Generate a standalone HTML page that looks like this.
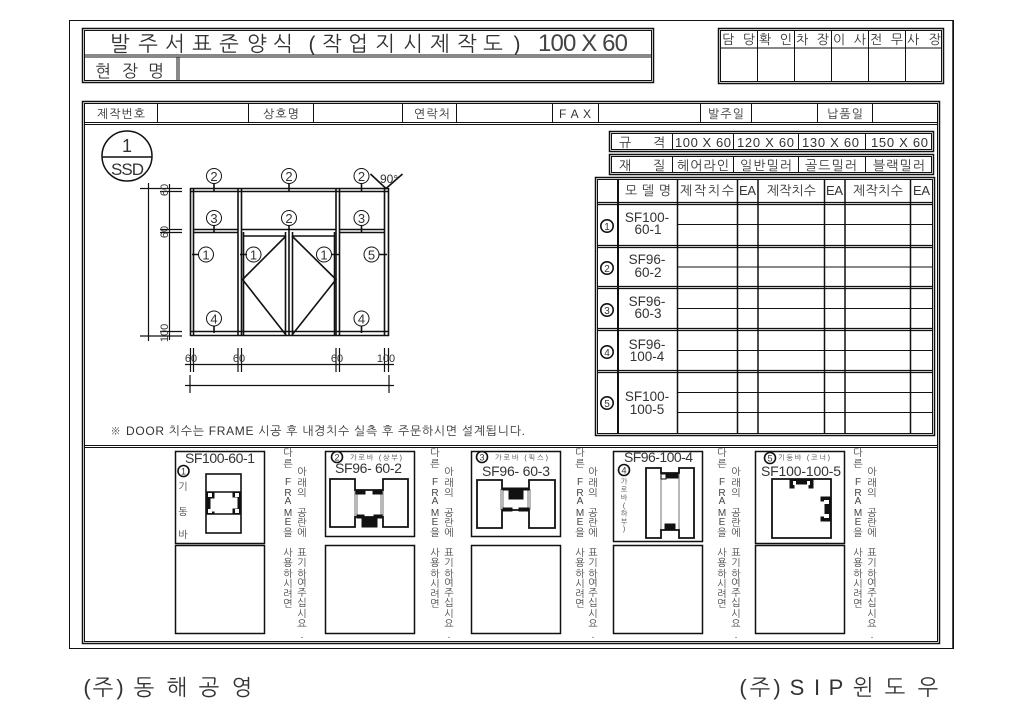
<!DOCTYPE html>
<html lang="ko"><head><meta charset="utf-8"><title>발주서 표준양식</title>
<style>
html,body{margin:0;padding:0;background:#fff;width:1024px;height:723px;overflow:hidden}
svg{display:block}
text{font-family:"Liberation Sans","NanumGothic","Noto Sans CJK KR",sans-serif;fill:#333}
.k{font-size:12px}
.v{font-size:10px;text-anchor:middle;fill:#444}
.s{font-size:7px;fill:#444}
path,rect,circle,line{fill:none;stroke:#111}
.b{fill:#111;stroke:#111}
.g{stroke:#888;stroke-width:1.2}
</style></head><body>
<svg width="1024" height="723" viewBox="0 0 1024 723" xmlns="http://www.w3.org/2000/svg">
<rect x="0" y="0" width="1024" height="723" style="fill:#fff;stroke:none"/>
<!-- outer frame -->
<rect x="69.5" y="20.5" width="884" height="628" stroke-width="1"/>
<line x1="953" y1="20" x2="953" y2="649" stroke="#777" stroke-width="1.5"/>

<!-- title -->
<rect x="82.5" y="28.5" width="571" height="54" stroke-width="1.5"/>
<rect x="84.5" y="30.5" width="567" height="50" stroke-width="1"/>
<path d="M84 55H652M84 57H652" stroke-width="1"/>
<path d="M177 57V81M179 57V81" stroke-width="1"/>
<text x="120 148 175 202 229 257 283 312 332 358 385 413 440 467 493 517" y="51" font-size="21" text-anchor="middle">발주서표준양식(작업지시제작도)</text>
<text x="538" y="51" font-size="24" textLength="90" style="fill:#444">100 X 60</text>
<text x="103 130 156" y="77" font-size="17" text-anchor="middle">현장명</text>

<!-- approval -->
<rect x="718.5" y="28.5" width="225" height="55" stroke-width="1.5"/>
<rect x="720.5" y="30.5" width="221" height="51" stroke-width="1"/>
<path d="M720 48H942M757.5 30V82M794.5 30V82M831.5 30V82M868.5 30V82M905.5 30V82" stroke-width="1"/>
<g font-size="13">
<text x="722" y="44" textLength="33">담 당</text><text x="759" y="44" textLength="33">확 인</text><text x="796" y="44" textLength="33">차 장</text><text x="833" y="44" textLength="33">이 사</text><text x="870" y="44" textLength="33">전 무</text><text x="907" y="44" textLength="34">사 장</text>
</g>

<!-- main box -->
<rect x="82.5" y="101.5" width="857" height="542" stroke-width="1.5"/>
<rect x="84.5" y="103.5" width="853" height="538" stroke-width="1"/>
<path d="M84 122.5H938M84 124.5H938M84 445.5H938M84 447.5H938" stroke-width="1"/>
<path d="M157.5 103V123M248.5 103V123M313.5 103V123M402.5 103V123M456.5 103V123M552.5 103V123M598.5 103V123M700.5 103V123M751.5 103V123M817.5 103V123M872.5 103V123" stroke-width="1"/>
<g class="k">
<text x="97" y="118" textLength="48">제작번호</text>
<text x="263" y="118" textLength="36">상호명</text>
<text x="414" y="118" textLength="36">연락처</text>
<text x="559" y="118" textLength="32">F A X</text>
<text x="708" y="118" textLength="36">발주일</text>
<text x="827" y="118" textLength="36">납품일</text>
</g>

<!-- spec tables -->
<rect x="609.5" y="131.5" width="324" height="20" stroke-width="1.5"/>
<rect x="611.5" y="133.5" width="320" height="16" stroke-width="1"/>
<path d="M672.5 133V150M733.5 133V150M798.5 133V150M865.5 133V150" stroke-width="1"/>
<rect x="609.5" y="154.5" width="324" height="20" stroke-width="1.5"/>
<rect x="611.5" y="156.5" width="320" height="16" stroke-width="1"/>
<path d="M672.5 156V173M733.5 156V173M798.5 156V173M865.5 156V173" stroke-width="1"/>
<g font-size="13">
<text x="619" y="147">규</text><text x="653" y="147">격</text>
<text x="675" y="147" textLength="56">100 X 60</text><text x="737" y="147" textLength="57">120 X 60</text><text x="802" y="147" textLength="57">130 X 60</text><text x="871" y="147" textLength="57">150 X 60</text>
<text x="619" y="170">재</text><text x="653" y="170">질</text>
<text x="677" y="170" textLength="52">헤어라인</text><text x="740" y="170" textLength="52">일반밀러</text><text x="805" y="170" textLength="52">골드밀러</text><text x="873" y="170" textLength="52">블랙밀러</text>
</g>

<!-- model table -->
<rect x="595.5" y="177.5" width="339" height="258" stroke-width="1.5"/>
<rect x="597.5" y="179.5" width="335" height="254" stroke-width="1"/>
<path d="M618 179V434" stroke-width="2"/>
<path d="M677.5 179V434M737.5 179V434M758 179V434M824.5 179V434M845 179V434M910.5 179V434" stroke-width="1.5"/>
<path d="M597 202.5H933M597 204.5H933M597 245.5H933M597 247.5H933M597 286.5H933M597 288.5H933M597 328.5H933M597 330.5H933M597 370.5H933M597 372.5H933" stroke-width="1.2"/>
<path d="M677 224.5H933M677 267H933M677 308.5H933M677 350.5H933M677 392.5H933M677 412.5H933" stroke-width="1"/>
<g font-size="13">
<text x="625" y="195" textLength="46">모 델 명</text>
<text x="680" y="195" textLength="54">제작치수</text><text x="739" y="195" textLength="17">EA</text>
<text x="767" y="195" textLength="49">제작치수</text><text x="826" y="195" textLength="17">EA</text>
<text x="853" y="195" textLength="50">제작치수</text><text x="913" y="195" textLength="17">EA</text>
</g>
<g font-size="13.5" text-anchor="middle" style="fill:#444">
<text x="647" y="222">SF100-</text><text x="648" y="234">60-1</text>
<text x="647" y="264">SF96-</text><text x="648" y="277">60-2</text>
<text x="647" y="306">SF96-</text><text x="648" y="318">60-3</text>
<text x="647" y="349">SF96-</text><text x="647" y="361">100-4</text>
<text x="647" y="401">SF100-</text><text x="647" y="414">100-5</text>
</g>
<g stroke-width="1.6">
<circle cx="607" cy="226" r="6.2"/><circle cx="607" cy="268" r="6.2"/><circle cx="607" cy="310" r="6.2"/><circle cx="607" cy="352" r="6.2"/><circle cx="607" cy="403" r="6.2"/>
</g>
<g font-size="10" text-anchor="middle">
<text x="607" y="230">1</text><text x="607" y="272">2</text><text x="607" y="314">3</text><text x="607" y="356">4</text><text x="607" y="407">5</text>
</g>

<!-- SSD symbol -->
<circle cx="127" cy="156" r="25" stroke-width="1.5"/>
<line x1="102" y1="157" x2="152" y2="157" stroke-width="1.5"/>
<text x="127" y="152" font-size="18" text-anchor="middle">1</text>
<text x="111" y="175" font-size="17" textLength="33">SSD</text>

<!-- elevation -->
<g stroke-width="1.6">
<path d="M190.5 188V336M193.5 188V336M238 188V336M241.5 188V336M336 188V336M339.5 188V336M384.5 188V336M388.5 188V336"/>
<path d="M190 188.5H389M190 191.5H389M193 229.5H238M193 232.5H238M241 229.5H336M339 229.5H385M339 232.5H385M190 331.5H389M190 335.5H389"/>
<path d="M243.5 232V336M334.5 232V336M243 236H285M293 236H335"/>
<path d="M285.5 232V336M289 232V336M292.5 232V336"/>
<path d="M286 236L242.5 279.5L286 335M292 236L336 279.5L292 335"/>
<path d="M370.5 174L386 188.5L402.5 174"/>
<path d="M214 183V191M289 183V191M361.5 183V191M214 225V232M289 225V232M361.5 225V232M214 326V333M361.5 326V333M198 254.5H192M247 254.5H240M332 254.5H339M379 254.5H387"/>
</g>
<g style="stroke:#222;stroke-width:1">
<circle cx="214" cy="176" r="7.5"/><circle cx="289" cy="176" r="7.5"/><circle cx="361.5" cy="176" r="7.5"/>
<circle cx="214" cy="218" r="7.5"/><circle cx="289" cy="218" r="7.5"/><circle cx="361.5" cy="218" r="7.5"/>
<circle cx="206" cy="254.5" r="7.5"/><circle cx="253.5" cy="254.5" r="7.5"/><circle cx="324" cy="254.5" r="7.5"/><circle cx="371.5" cy="254.5" r="7.5"/>
<circle cx="214" cy="318.5" r="7.5"/><circle cx="361.5" cy="318.5" r="7.5"/>
</g>
<g font-size="13" text-anchor="middle">
<text x="214" y="181">2</text><text x="289" y="181">2</text><text x="361.5" y="181">2</text>
<text x="214" y="223">3</text><text x="289" y="223">2</text><text x="361.5" y="223">3</text>
<text x="206" y="259.5">1</text><text x="253.5" y="259.5">1</text><text x="324" y="259.5">1</text><text x="371.5" y="259.5">5</text>
<text x="214" y="323.5">4</text><text x="361.5" y="323.5">4</text>
</g>
<text x="380" y="183" font-size="12" textLength="18">90°</text>

<!-- dimensions -->
<g stroke-width="1.2">
<path d="M148.5 183V341M169.5 184V340M140 188.5H182M160 191.5H182M160 229.5H182M160 232.5H182M160 331.5H182M140 336H182"/>
<path d="M185 364.5H394M185 385.5H394"/>
<path d="M190.5 348V372M193.5 348V372M238 348V372M241.5 348V372M336 348V372M339.5 348V372M384.5 348V372M388.5 348V372M190 375V393M389 375V393"/>
</g>
<g font-size="11" text-anchor="middle">
<text x="191" y="362">60</text><text x="239" y="362">60</text><text x="337" y="362">60</text><text x="386" y="362">100</text>
<text transform="translate(168,190) rotate(-90)">60</text>
<text transform="translate(168,232) rotate(-90)">60</text>
<text transform="translate(168,333) rotate(-90)">100</text>
</g>
<text x="110" y="435" font-size="12" textLength="415">※ DOOR 치수는 FRAME 시공 후 내경치수 실측 후 주문하시면 설계됩니다.</text>

<!-- lower boxes -->
<g stroke-width="1.5">
<rect x="175.5" y="451.5" width="89" height="92"/><rect x="175.5" y="545.5" width="89" height="88"/>
<rect x="325.5" y="451.5" width="89" height="85"/><rect x="325.5" y="545.5" width="89" height="88"/>
<rect x="471.5" y="451.5" width="89" height="85"/><rect x="471.5" y="545.5" width="89" height="88"/>
<rect x="613.5" y="451.5" width="89" height="90"/><rect x="613.5" y="545.5" width="89" height="88"/>
<rect x="755.5" y="451.5" width="89" height="92"/><rect x="755.5" y="545.5" width="89" height="88"/>
</g>

<!-- vertical notes -->
<text class="v" x="288 288 288 288 288 288 288 288 288 288 288 288 288 288" y="456 467 485 496 504 516 525 536 556 566 577 587 597 607">다른FRAME을사용하시려면</text>
<text class="v" x="302 302 302 302 302 302 302 302 302 302 302 302 302 302 302" y="475 486 496 516 526 536 556 566 577 586 596 606 617 627 638">아래의공란에표기하여주십시요.</text>
<text class="v" x="435 435 435 435 435 435 435 435 435 435 435 435 435 435" y="456 467 485 496 504 516 525 536 556 566 577 587 597 607">다른FRAME을사용하시려면</text>
<text class="v" x="449 449 449 449 449 449 449 449 449 449 449 449 449 449 449" y="475 486 496 516 526 536 556 566 577 586 596 606 617 627 638">아래의공란에표기하여주십시요.</text>
<text class="v" x="580 580 580 580 580 580 580 580 580 580 580 580 580 580" y="456 467 485 496 504 516 525 536 556 566 577 587 597 607">다른FRAME을사용하시려면</text>
<text class="v" x="593 593 593 593 593 593 593 593 593 593 593 593 593 593 593" y="475 486 496 516 526 536 556 566 577 586 596 606 617 627 638">아래의공란에표기하여주십시요.</text>
<text class="v" x="722 722 722 722 722 722 722 722 722 722 722 722 722 722" y="456 467 485 496 504 516 525 536 556 566 577 587 597 607">다른FRAME을사용하시려면</text>
<text class="v" x="736 736 736 736 736 736 736 736 736 736 736 736 736 736 736" y="475 486 496 516 526 536 556 566 577 586 596 606 617 627 638">아래의공란에표기하여주십시요.</text>
<text class="v" x="858 858 858 858 858 858 858 858 858 858 858 858 858 858" y="456 467 485 496 504 516 525 536 556 566 577 587 597 607">다른FRAME을사용하시려면</text>
<text class="v" x="872 872 872 872 872 872 872 872 872 872 872 872 872 872 872" y="475 486 496 516 526 536 556 566 577 586 596 606 617 627 638">아래의공란에표기하여주십시요.</text>

<!-- box 1 -->
<text x="185" y="463" font-size="14" textLength="70">SF100-60-1</text>
<circle cx="183.5" cy="471" r="5.5" stroke-width="1.6"/><text x="183.5" y="474.5" font-size="9" text-anchor="middle">1</text>
<text class="v" x="183 183 183" y="490 515 538">기동바</text>
<rect x="206" y="474" width="35" height="59" stroke-width="1.6"/>
<path d="M206 492H241M206 514H241" stroke-width="1.6"/>
<path class="b" d="M206 492H214V498H210V512H214V514H206Z"/>
<path class="b" d="M233 492H240V514H233V509H238V497H233Z"/>
<rect x="208" y="493" width="4" height="4" style="fill:#fff;stroke:none"/><rect x="235" y="493" width="4" height="4" style="fill:#fff;stroke:none"/><rect x="208" y="509" width="4" height="4" style="fill:#fff;stroke:none"/><rect x="235" y="509" width="4" height="4" style="fill:#fff;stroke:none"/>

<!-- box 2 -->
<circle cx="337" cy="457" r="5.5" stroke-width="1.6"/><text x="337" y="460.5" font-size="9" text-anchor="middle">2</text>
<text class="s" x="350" y="460" textLength="52">가로바 (상부)</text>
<text x="335" y="473" font-size="14" textLength="67">SF96- 60-2</text>
<path class="g" d="M355 490V517M357 490V517M383 490V517M381 490V517"/>
<path d="M355 479H330V527H355V517H383V527H408V479H383V490H355Z" stroke-width="1.8"/>
<path class="b" d="M356 491H365V494H356ZM373 491H382V494H373ZM357 515H364V518H357ZM374 515H382V518H374ZM362 518H377V527H362Z"/>

<!-- box 3 -->
<circle cx="482" cy="457" r="5.5" stroke-width="1.6"/><text x="482" y="460.5" font-size="9" text-anchor="middle">3</text>
<text class="s" x="495" y="460" textLength="53">가로바 (픽스)</text>
<text x="482" y="476" font-size="14" textLength="68">SF96- 60-3</text>
<path class="g" d="M501 489V510M503 489V510M530 489V510M528 489V510"/>
<path d="M502 480H477V528H502V510H529V528H555V480H529V489H502Z" stroke-width="1.8"/>
<path class="b" d="M509 490H523V499H509ZM503 488H529V490H503ZM503 508H512V511H503ZM519 508H529V511H519Z"/>

<!-- box 4 -->
<text x="624" y="462" font-size="14" textLength="69">SF96-100-4</text>
<circle cx="624" cy="470" r="5.5" stroke-width="1.6"/><text x="624" y="473.5" font-size="9" text-anchor="middle">4</text>
<text class="s" text-anchor="middle" x="624 624 624 624 624 624 624" y="484 492 500 508 516 524 531">가로바(하부)</text>
<path class="g" d="M661 474V530M679 474V530"/>
<path d="M661 468H646V538H661V530H679V538H694V468H679V473H661Z" stroke-width="1.8"/>
<path class="b" d="M666 473H678V478H666ZM665 524H675V530H665Z"/>
<rect x="661" y="474" width="5" height="5" stroke-width="1"/>

<!-- box 5 -->
<circle cx="770" cy="458" r="5.5" stroke-width="1.6"/><text x="770" y="461.5" font-size="9" text-anchor="middle">5</text>
<text class="s" x="778" y="460" textLength="52">기둥바 (코너)</text>
<text x="761" y="476" font-size="14" textLength="80">SF100-100-5</text>
<path d="M772 479H831V538H772Z" stroke-width="1.8"/>
<path class="b" d="M790 479H813V488H809V484H794V488H790ZM821 497H831V521H821V517H825V501H821Z"/>
<rect x="793" y="481" width="3" height="4" style="fill:#fff;stroke:none"/><rect x="807" y="481" width="3" height="4" style="fill:#fff;stroke:none"/><rect x="824" y="500" width="5" height="4" style="fill:#fff;stroke:none"/><rect x="824" y="514" width="5" height="4" style="fill:#fff;stroke:none"/>

<!-- footer -->
<g font-size="22" text-anchor="middle">
<text x="87 103 120 144 177 209 242" y="695">(주)동해공영</text>
<text x="743 760 777 797 817 836 863 895 928" y="695">(주)SIP윈도우</text>
</g>
</svg>
</body></html>
